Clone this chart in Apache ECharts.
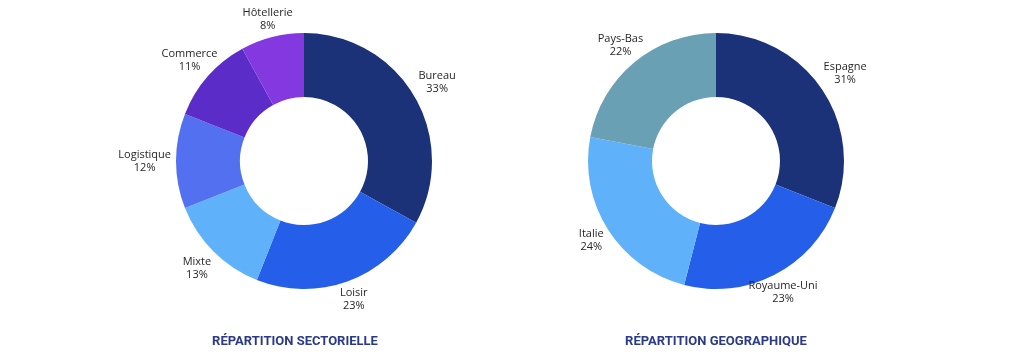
<!DOCTYPE html>
<html>
<head>
<meta charset="utf-8">
<script src="https://cdn.jsdelivr.net/npm/echarts@6/dist/echarts.min.js"></script>
<style>
html,body{margin:0;padding:0;background:#fff;}
#chart{width:1024px;height:360px;}
</style>
</head>
<body>
<div id="chart"></div>
<script>
const sectorNames = ['Bureau', 'Loisir', 'Mixte', 'Logistique', 'Commerce', 'Hôtellerie'];
const sectorValues = [33, 23, 13, 12, 11, 8];
const sectorColors = ['#1b3278', '#255ee9', '#5fb2fa', '#5270f0', '#5b2cc8', '#8338e0'];

const geoNames = ['Espagne', 'Royaume-Uni', 'Italie', 'Pays-Bas'];
const geoValues = [31, 23, 24, 22];
const geoColors = ['#1b3278', '#255ee9', '#5fb2fa', '#6aa0b4'];

const chartTitles = ['RÉPARTITION SECTORIELLE', 'RÉPARTITION GEOGRAPHIQUE'];

const PIE_CENTERS = [[304, 161], [716, 161]];
const R_IN = 64, R_OUT = 128, R_LABEL = 133;

function midAngles(values) {
  const total = values.reduce((a, b) => a + b, 0);
  let acc = 0;
  return values.map(v => { const m = (acc + v / 2) / total * 360; acc += v; return m; });
}

function makeLayout(values, center) {
  const mids = midAngles(values);
  return function (p) {
    const a = mids[p.dataIndex] * Math.PI / 180;
    const s = Math.sin(a), c = Math.cos(a);
    const w = p.labelRect.width, h = p.labelRect.height;
    const dx = Math.abs(s) > 1e-6 ? (w / 2) / Math.abs(s) : Infinity;
    const dy = Math.abs(c) > 1e-6 ? (h / 2) / Math.abs(c) : Infinity;
    const r = R_LABEL + Math.min(dx, dy);
    return {
      x: center[0] + r * s,
      y: center[1] - r * c,
      align: 'center',
      verticalAlign: 'middle'
    };
  };
}

function pieSeries(names, values, colors, center) {
  return {
    type: 'pie',
    center: center,
    radius: [R_IN, R_OUT],
    startAngle: 90,
    clockwise: true,
    avoidLabelOverlap: false,
    silent: true,
    label: {
      show: true,
      position: 'outside',
      fontFamily: 'Open Sans',
      fontSize: 11,
      lineHeight: 13,
      color: '#262626',
      formatter: p => p.name + '\n' + p.value + '%'
    },
    labelLine: { show: false },
    labelLayout: makeLayout(values, center),
    itemStyle: { borderWidth: 0 },
    data: names.map((n, i) => ({ name: n, value: values[i], itemStyle: { color: colors[i] } }))
  };
}

const chart = echarts.init(document.getElementById('chart'), null, { renderer: 'canvas' });
chart.setOption({
  animation: false,
  backgroundColor: '#ffffff',
  title: chartTitles.map((t, i) => ({
    text: t,
    left: [295, 716][i],
    top: 342,
    padding: 0,
    textAlign: 'center',
    textVerticalAlign: 'middle',
    textStyle: { fontFamily: 'Roboto', fontWeight: 'bold', fontSize: 13, color: '#2b3a87' }
  })),
  series: [
    pieSeries(sectorNames, sectorValues, sectorColors, PIE_CENTERS[0]),
    pieSeries(geoNames, geoValues, geoColors, PIE_CENTERS[1])
  ]
});
</script>
</body>
</html>
